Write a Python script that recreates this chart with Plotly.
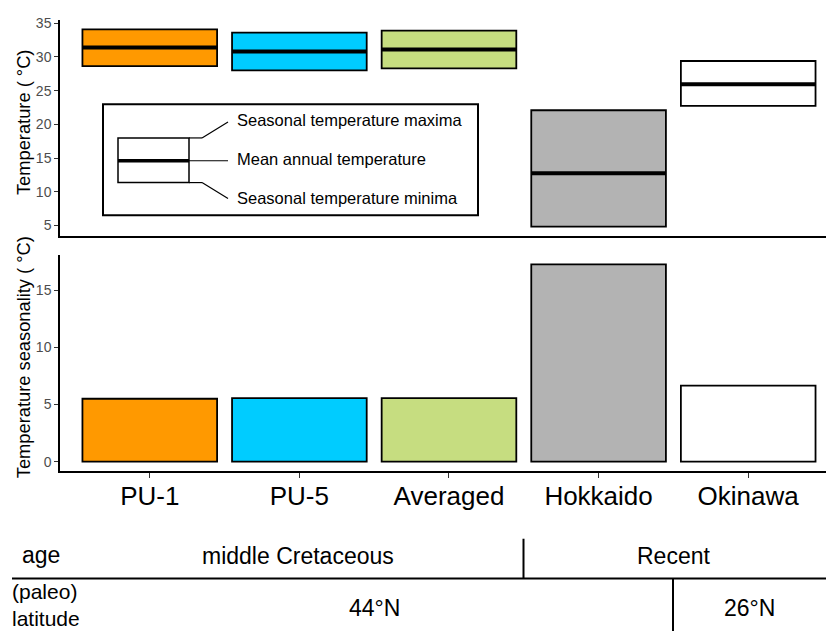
import plotly.graph_objects as go

# Sites and their temperature summaries (°C)
sites = ["PU-1", "PU-5", "Averaged", "Hokkaido", "Okinawa"]
temp_max = [34.1, 33.6, 33.9, 22.1, 29.4]
temp_min = [28.65, 28.0, 28.3, 4.85, 22.75]
temp_mean = [31.4, 30.8, 31.1, 12.75, 25.95]
seasonality = [5.5, 5.55, 5.55, 17.25, 6.65]
fill_colors = ["#FF9900", "#00CCFF", "#C6DD80", "#B3B3B3", "#FFFFFF"]

# Age / latitude table rows drawn beneath the chart
age_labels = ["middle Cretaceous", "Recent"]
lat_labels = ["44°N", "26°N"]

W, H = 826, 631
FONT = "Liberation Sans, Arial, sans-serif"


def px(x):
    return x / W


def py(y):
    return 1 - y / H


idx = list(range(1, len(sites) + 1))
bar_w = 0.9

fig = go.Figure()

# Top panel: floating bars spanning seasonal min to max
fig.add_trace(go.Bar(
    x=idx,
    y=[hi - lo for hi, lo in zip(temp_max, temp_min)],
    base=temp_min,
    width=bar_w,
    marker=dict(color=fill_colors, line=dict(color="black", width=1.8)),
    xaxis="x", yaxis="y", showlegend=False, hoverinfo="skip",
))

# Mean annual temperature as a thick horizontal line across each bar
mx, my = [], []
for i, m in zip(idx, temp_mean):
    mx += [i - bar_w / 2, i + bar_w / 2, None]
    my += [m, m, None]
fig.add_trace(go.Scatter(
    x=mx, y=my, mode="lines", line=dict(color="black", width=4),
    xaxis="x", yaxis="y", showlegend=False, hoverinfo="skip",
))

# Bottom panel: seasonality bars
fig.add_trace(go.Bar(
    x=idx, y=seasonality, width=bar_w,
    marker=dict(color=fill_colors, line=dict(color="black", width=1.8)),
    xaxis="x2", yaxis="y2", showlegend=False, hoverinfo="skip",
))

x_dom = [px(60), 1]
x_rng = [0.4, 5.52]
tickfont = dict(family=FONT, size=14, color="#4D4D4D")

fig.update_layout(
    width=W, height=H,
    margin=dict(l=0, r=0, t=0, b=0),
    paper_bgcolor="white", plot_bgcolor="white",
    font=dict(family=FONT, color="black"),
    xaxis=dict(domain=x_dom, range=x_rng, anchor="y", showline=True,
               linecolor="black", linewidth=1.5, showgrid=False,
               zeroline=False, showticklabels=False, ticks=""),
    yaxis=dict(domain=[py(233), py(15)], range=[3.43, 35.5], anchor="x",
               showline=True, linecolor="black", linewidth=1.5,
               showgrid=False, zeroline=False, ticks="outside", ticklen=4,
               tickcolor="#333333", tickvals=[5, 10, 15, 20, 25, 30, 35],
               tickfont=tickfont),
    xaxis2=dict(domain=x_dom, range=x_rng, anchor="y2", showline=True,
                linecolor="black", linewidth=1.5, showgrid=False,
                zeroline=False, ticks="outside", ticklen=5,
                tickcolor="#333333", tickvals=idx, ticktext=sites,
                ticklabelstandoff=-4,
                tickfont=dict(family=FONT, size=26, color="black")),
    yaxis2=dict(domain=[py(470), py(252)], range=[-0.84, 18.07], anchor="x2",
                showline=True, linecolor="black", linewidth=1.5,
                showgrid=False, zeroline=False, ticks="outside", ticklen=4,
                tickcolor="#333333", tickvals=[0, 5, 10, 15],
                tickfont=tickfont),
)

shapes = []
annotations = []


def line(x0, y0, x1, y1, width=1.5, color="black"):
    shapes.append(dict(type="line", xref="paper", yref="paper",
                       x0=px(x0), y0=py(y0), x1=px(x1), y1=py(y1),
                       line=dict(color=color, width=width)))


def text(s, x, y, size, xanchor="center", color="black", align="center"):
    annotations.append(dict(text=s, xref="paper", yref="paper",
                            x=px(x), y=py(y), xanchor=xanchor,
                            yanchor="middle", showarrow=False, align=align,
                            borderpad=0,
                            font=dict(family=FONT, size=size, color=color)))


# Axis titles
annotations.append(dict(text="Temperature ( °C)", xref="paper", yref="paper",
                        x=px(23), y=py(119), textangle=-90, showarrow=False,
                        xanchor="center", yanchor="middle",
                        font=dict(family=FONT, size=18.3, color="black")))
annotations.append(dict(text="Temperature seasonality ( °C)", xref="paper",
                        yref="paper", x=px(23), y=py(355), textangle=-90,
                        showarrow=False, xanchor="center", yanchor="middle",
                        font=dict(family=FONT, size=18.3, color="black")))

# Key explaining the box glyph
shapes.append(dict(type="rect", xref="paper", yref="paper",
                   x0=px(103), y0=py(212), x1=px(478), y1=py(100),
                   line=dict(color="black", width=2), fillcolor="white"))
shapes.append(dict(type="rect", xref="paper", yref="paper",
                   x0=px(118), y0=py(179), x1=px(189), y1=py(134),
                   line=dict(color="black", width=1.5), fillcolor="white"))
line(118, 157, 189, 157, width=3.5)
line(189, 157, 228, 157, width=1.2)
line(189, 134, 202, 134, width=1.2)
line(202, 134, 228, 118, width=1.2)
line(189, 179, 202, 179, width=1.2)
line(202, 179, 228, 195, width=1.2)
text("Seasonal temperature maxima", 236, 116, 16.5, xanchor="left")
text("Mean annual temperature", 236, 155, 16.5, xanchor="left")
text("Seasonal temperature minima", 236, 195, 16.5, xanchor="left")

# Age / latitude table
line(12, 578, 826, 578, width=2)
line(523.5, 538, 523.5, 578, width=2)
line(673, 578, 673, 631, width=2)
text("age", 21, 554, 23, xanchor="left")
text(age_labels[0], 298, 555, 23)
text(age_labels[1], 673, 555, 23)
text("(paleo)<br>latitude", 11, 605, 21, xanchor="left", align="left")
text(lat_labels[0], 374, 608, 23)
text(lat_labels[1], 749, 608, 23)

fig.update_layout(shapes=shapes, annotations=annotations)

fig.write_html("out.html")
